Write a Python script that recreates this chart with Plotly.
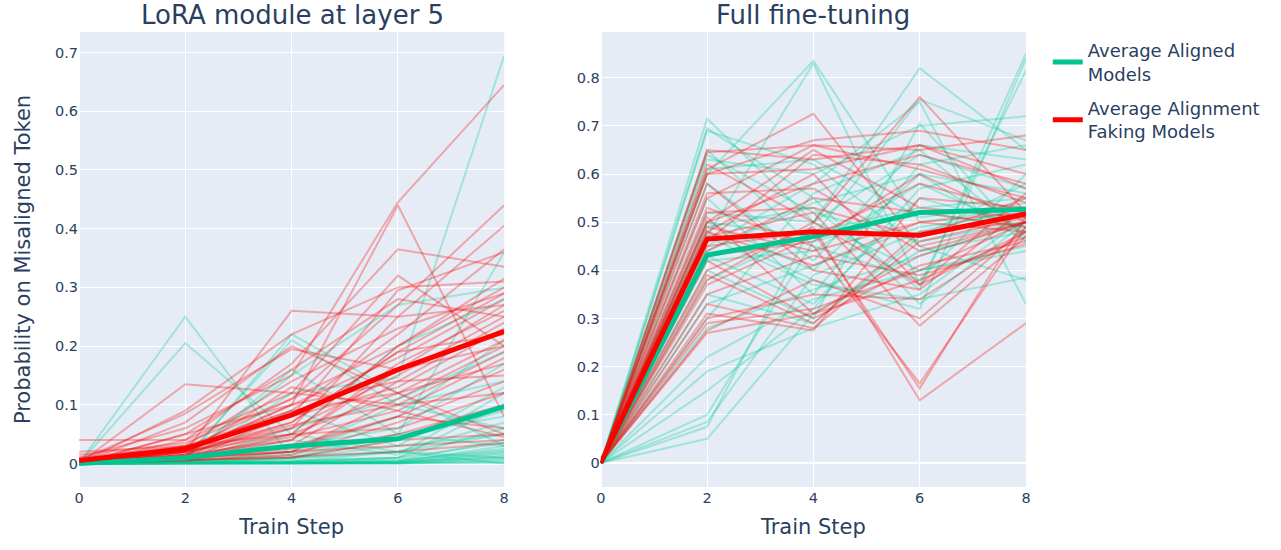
"""
对齐 / 对齐伪装模型：训练步数 vs 误对齐 token 概率
左：LoRA（第5层） 右：全量微调
"""

import plotly.graph_objects as go
from plotly.subplots import make_subplots

# === 数据 ===
train_steps = [0, 2, 4, 6, 8]

# LoRA module at layer 5 - 各个 aligned 模型
lora_aligned = [
    [0, 0.25, 0.01, 0.05, 0.03],
    [0, 0.205, 0.05, 0.02, 0.01],
    [0, 0.005, 0.22, 0.12, 0.03],
    [0, 0.01, 0.21, 0.10, 0.06],
    [0, 0.008, 0.16, 0.05, 0.36],
    [0, 0.01, 0.15, 0.27, 0.30],
    [0, 0.005, 0.12, 0.146, 0.695],
    [0, 0.002, 0.05, 0.20, 0.28],
    [0, 0.003, 0.02, 0.08, 0.21],
    [0, 0.004, 0.03, 0.06, 0.17],
    [0, 0.002, 0.01, 0.03, 0.13],
    [0, 0.003, 0.04, 0.015, 0.12],
    [0, 0.001, 0.005, 0.01, 0.10],
    [0, 0.002, 0.01, 0.04, 0.09],
    [0, 0.001, 0.008, 0.02, 0.07],
    [0, 0.001, 0.004, 0.01, 0.06],
    [0, 0.002, 0.003, 0.02, 0.05],
    [0, 0.001, 0.002, 0.005, 0.04],
    [0, 0.001, 0.002, 0.01, 0.035],
    [0, 0.0, 0.001, 0.003, 0.03],
    [0, 0.0, 0.001, 0.004, 0.025],
    [0, 0.001, 0.003, 0.006, 0.022],
    [0, 0.0, 0.0, 0.002, 0.02],
    [0, 0.0, 0.001, 0.002, 0.018],
    [0, 0.0, 0.0, 0.001, 0.015],
    [0, 0.0, 0.0, 0.001, 0.012],
    [0, 0.0, 0.001, 0.003, 0.01],
    [0, 0.0, 0.0, 0.0, 0.008],
    [0, 0.0, 0.0, 0.001, 0.005],
    [0, 0.0, 0.0, 0.0, 0.003],
    [0, 0.0, 0.0, 0.0, 0.001],
    [0, 0.002, 0.02, 0.10, 0.14],
    [0, 0.003, 0.06, 0.11, 0.19],
    [0, 0.001, 0.01, 0.02, 0.0],
    [0, 0.002, 0.09, 0.03, 0.05],
    [0, 0.001, 0.015, 0.05, 0.08],
]

# LoRA module at layer 5 - 各个 alignment faking 模型
lora_faking = [
    [0.0, 0.02, 0.26, 0.25, 0.27],
    [0.0, 0.135, 0.12, 0.10, 0.12],
    [0.0, 0.09, 0.22, 0.30, 0.31],
    [0.005, 0.085, 0.195, 0.16, 0.20],
    [0.0, 0.07, 0.20, 0.12, 0.05],
    [0.01, 0.06, 0.15, 0.445, 0.645],
    [0.0, 0.05, 0.10, 0.44, 0.08],
    [0.0, 0.04, 0.17, 0.365, 0.335],
    [0.04, 0.04, 0.12, 0.32, 0.20],
    [0.02, 0.03, 0.08, 0.295, 0.36],
    [0.015, 0.035, 0.11, 0.27, 0.44],
    [0.0, 0.02, 0.06, 0.25, 0.405],
    [0.0, 0.025, 0.09, 0.22, 0.365],
    [0.005, 0.03, 0.05, 0.20, 0.30],
    [0.0, 0.015, 0.07, 0.19, 0.29],
    [0.0, 0.02, 0.10, 0.18, 0.28],
    [0.0, 0.01, 0.04, 0.17, 0.26],
    [0.0, 0.012, 0.06, 0.15, 0.25],
    [0.0, 0.008, 0.03, 0.14, 0.24],
    [0.0, 0.015, 0.08, 0.13, 0.23],
    [0.005, 0.02, 0.05, 0.12, 0.21],
    [0.0, 0.01, 0.02, 0.11, 0.20],
    [0.0, 0.018, 0.065, 0.10, 0.19],
    [0.0, 0.012, 0.045, 0.09, 0.18],
    [0.0, 0.01, 0.03, 0.08, 0.16],
    [0.0, 0.02, 0.10, 0.14, 0.15],
    [0.0, 0.005, 0.015, 0.07, 0.14],
    [0.0, 0.01, 0.05, 0.06, 0.12],
    [0.0, 0.008, 0.02, 0.05, 0.10],
    [0.0, 0.006, 0.01, 0.04, 0.05],
    [0.0, 0.015, 0.13, 0.09, 0.045],
    [0.0, 0.01, 0.02, 0.03, 0.04],
    [0.0, 0.05, 0.16, 0.28, 0.25],
    [0.0, 0.03, 0.14, 0.23, 0.29],
    [0.0, 0.025, 0.11, 0.20, 0.315],
    [0.0, 0.015, 0.04, 0.16, 0.27],
    [0.0, 0.02, 0.07, 0.19, 0.22],
    [0.01, 0.03, 0.09, 0.12, 0.17],
    [0.0, 0.01, 0.025, 0.08, 0.06],
    [0.0, 0.005, 0.012, 0.02, 0.035],
]

# Full fine-tuning - 各个 aligned 模型
full_aligned = [
    [0, 0.715, 0.50, 0.40, 0.45],
    [0, 0.695, 0.55, 0.33, 0.50],
    [0, 0.69, 0.62, 0.45, 0.38],
    [0, 0.65, 0.45, 0.38, 0.60],
    [0, 0.63, 0.60, 0.70, 0.72],
    [0, 0.60, 0.835, 0.50, 0.53],
    [0, 0.58, 0.42, 0.66, 0.63],
    [0, 0.55, 0.35, 0.62, 0.66],
    [0, 0.52, 0.50, 0.82, 0.65],
    [0, 0.50, 0.47, 0.755, 0.67],
    [0, 0.50, 0.40, 0.60, 0.56],
    [0, 0.49, 0.53, 0.36, 0.85],
    [0, 0.48, 0.38, 0.32, 0.84],
    [0, 0.47, 0.83, 0.37, 0.815],
    [0, 0.45, 0.58, 0.75, 0.33],
    [0, 0.43, 0.33, 0.55, 0.49],
    [0, 0.42, 0.44, 0.58, 0.48],
    [0, 0.40, 0.30, 0.705, 0.46],
    [0, 0.38, 0.48, 0.53, 0.55],
    [0, 0.35, 0.29, 0.47, 0.58],
    [0, 0.33, 0.41, 0.49, 0.52],
    [0, 0.30, 0.56, 0.65, 0.47],
    [0, 0.28, 0.36, 0.43, 0.50],
    [0, 0.22, 0.34, 0.40, 0.44],
    [0, 0.19, 0.28, 0.35, 0.51],
    [0, 0.15, 0.32, 0.57, 0.62],
    [0, 0.10, 0.46, 0.52, 0.49],
    [0, 0.085, 0.39, 0.48, 0.53],
    [0, 0.075, 0.50, 0.64, 0.57],
    [0, 0.05, 0.31, 0.44, 0.48],
    [0, 0.61, 0.63, 0.51, 0.54],
    [0, 0.64, 0.52, 0.46, 0.50],
    [0, 0.47, 0.37, 0.34, 0.385],
    [0, 0.44, 0.54, 0.60, 0.46],
]

# Full fine-tuning - 各个 alignment faking 模型
full_faking = [
    [0, 0.65, 0.63, 0.66, 0.60],
    [0, 0.645, 0.66, 0.65, 0.68],
    [0, 0.62, 0.50, 0.76, 0.52],
    [0, 0.61, 0.725, 0.45, 0.50],
    [0, 0.60, 0.67, 0.69, 0.65],
    [0, 0.58, 0.40, 0.36, 0.53],
    [0, 0.55, 0.66, 0.61, 0.55],
    [0, 0.53, 0.45, 0.165, 0.49],
    [0, 0.51, 0.31, 0.43, 0.50],
    [0, 0.50, 0.58, 0.64, 0.58],
    [0, 0.49, 0.44, 0.50, 0.48],
    [0, 0.48, 0.60, 0.37, 0.56],
    [0, 0.47, 0.52, 0.285, 0.47],
    [0, 0.46, 0.64, 0.62, 0.54],
    [0, 0.45, 0.48, 0.155, 0.51],
    [0, 0.44, 0.55, 0.52, 0.49],
    [0, 0.42, 0.30, 0.41, 0.46],
    [0, 0.40, 0.49, 0.13, 0.29],
    [0, 0.39, 0.29, 0.48, 0.50],
    [0, 0.37, 0.47, 0.58, 0.52],
    [0, 0.35, 0.43, 0.39, 0.455],
    [0, 0.33, 0.28, 0.46, 0.51],
    [0, 0.31, 0.275, 0.55, 0.53],
    [0, 0.30, 0.35, 0.34, 0.48],
    [0, 0.29, 0.32, 0.40, 0.50],
    [0, 0.275, 0.38, 0.30, 0.49],
    [0, 0.27, 0.31, 0.38, 0.47],
    [0, 0.60, 0.61, 0.66, 0.57],
    [0, 0.56, 0.57, 0.44, 0.50],
    [0, 0.52, 0.53, 0.47, 0.55],
    [0, 0.48, 0.41, 0.50, 0.52],
    [0, 0.43, 0.46, 0.60, 0.50],
    [0, 0.50, 0.65, 0.53, 0.51],
    [0, 0.38, 0.50, 0.37, 0.48],
]

# 平均曲线
lora_aligned_avg = [0.0, 0.010, 0.030, 0.042, 0.097]
lora_faking_avg = [0.005, 0.025, 0.083, 0.160, 0.225]
full_aligned_avg = [0.0, 0.432, 0.470, 0.520, 0.527]
full_faking_avg = [0.0, 0.465, 0.480, 0.473, 0.517]

ALIGNED_COLOR = "#00C490"
FAKING_COLOR = "#FF0000"
ALIGNED_THIN = "rgba(0,204,150,0.3)"
FAKING_THIN = "rgba(255,0,0,0.3)"


def add_thin_lines(fig, runs, color, col):
    """每个模型一条细线，不进图例"""
    for ys in runs:
        fig.add_trace(
            go.Scatter(
                x=train_steps, y=ys,
                mode="lines",
                line=dict(color=color, width=2),
                showlegend=False,
                hoverinfo="skip",
            ),
            row=1, col=col,
        )


fig = make_subplots(
    rows=1, cols=2,
    subplot_titles=("LoRA module at layer 5", "Full fine-tuning"),
    horizontal_spacing=0.1,
)

# === 细线 ===
add_thin_lines(fig, lora_aligned, ALIGNED_THIN, 1)
add_thin_lines(fig, lora_faking, FAKING_THIN, 1)
add_thin_lines(fig, full_aligned, ALIGNED_THIN, 2)
add_thin_lines(fig, full_faking, FAKING_THIN, 2)

# === 平均线 ===
for col, a_avg, f_avg in [(1, lora_aligned_avg, lora_faking_avg),
                          (2, full_aligned_avg, full_faking_avg)]:
    fig.add_trace(
        go.Scatter(
            x=train_steps, y=a_avg,
            mode="lines", name="Average Aligned<br>Models",
            legendgroup="aligned",
            line=dict(color=ALIGNED_COLOR, width=5),
            showlegend=(col == 1),
        ),
        row=1, col=col,
    )
    fig.add_trace(
        go.Scatter(
            x=train_steps, y=f_avg,
            mode="lines", name="Average Alignment<br>Faking Models",
            legendgroup="faking",
            line=dict(color=FAKING_COLOR, width=5),
            showlegend=(col == 1),
        ),
        row=1, col=col,
    )

# === 布局 ===
fig.update_layout(
    width=1281,
    height=550,
    template="plotly",
    font=dict(family="DejaVu Sans, Verdana, sans-serif", color="#2a3f5f"),
    margin=dict(l=79, r=255, t=32, b=63),
    legend=dict(
        x=1.023, y=1.0,
        xanchor="left", yanchor="top",
        font=dict(size=18),
        tracegroupgap=8,
    ),
)
fig.update_annotations(font=dict(size=26))

fig.update_xaxes(
    title_text="Train Step",
    title_font=dict(size=21),
    title_standoff=14,
    tickfont=dict(size=14.5),
    tickvals=train_steps,
    range=[0, 8],
)
fig.update_xaxes(domain=[0, 0.449], row=1, col=1)
fig.update_xaxes(domain=[0.551, 1], row=1, col=2)

fig.update_yaxes(tickfont=dict(size=14.5), zeroline=True)
fig.update_yaxes(
    title_text="Probability on Misaligned Token",
    title_font=dict(size=21),
    title_standoff=18,
    range=[-0.04, 0.735],
    dtick=0.1,
    row=1, col=1,
)
fig.update_yaxes(range=[-0.05, 0.895], dtick=0.1, row=1, col=2)

# 去掉 body 默认 8px 边距，让画布贴齐窗口；不显示工具栏
fig.write_html(
    "out.html",
    config={"displayModeBar": False},
    post_script="document.body.style.margin = '0';",
)
